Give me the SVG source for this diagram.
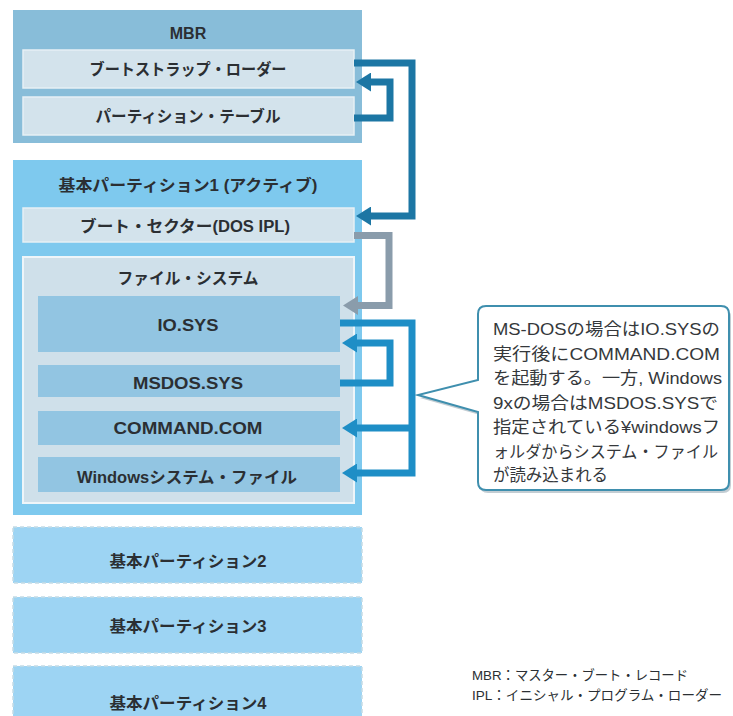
<svg xmlns="http://www.w3.org/2000/svg" width="733" height="716" viewBox="0 0 733 716">
<defs>
<style>
.t{font-family:"Liberation Sans","Noto Sans CJK JP",sans-serif;fill:#2b2f33;text-anchor:middle;dominant-baseline:central;font-weight:bold;font-size:16px}
.c{font-family:"Liberation Sans","Noto Sans CJK JP",sans-serif;fill:#35383b;font-size:16.5px;dominant-baseline:central}
.n{font-family:"Liberation Sans","Noto Sans CJK JP",sans-serif;fill:#2b2f33;font-size:13.5px;dominant-baseline:central}
.mbr{fill:#88bdd9}
.inner{fill:#d3e3ec;stroke:#e6f0f5;stroke-width:1.5}
.p1{fill:#7ec9ee}
.fs{fill:#cfe0ea;stroke:#eef5f9;stroke-width:2}
.item{fill:#92c5e2}
.pn{fill:#9dd4f3;stroke:#c5dbe6;stroke-width:1.5;stroke-dasharray:4 3}
.ad{fill:none;stroke:#1c76a4;stroke-width:7;marker-end:url(#hd)}
.ab{fill:none;stroke:#1e8ec6;stroke-width:7}
.ag{fill:none;stroke:#8a9cab;stroke-width:7;marker-end:url(#hg)}
</style>
<marker id="hd" markerUnits="userSpaceOnUse" viewBox="0 0 15 19" markerWidth="15" markerHeight="19" refX="0" refY="9.5" orient="auto"><path d="M0,0 L15,9.5 L0,19 z" fill="#1c76a4"/></marker>
<marker id="hb" markerUnits="userSpaceOnUse" viewBox="0 0 15 19" markerWidth="15" markerHeight="19" refX="0" refY="9.5" orient="auto"><path d="M0,0 L15,9.5 L0,19 z" fill="#1e8ec6"/></marker>
<marker id="hg" markerUnits="userSpaceOnUse" viewBox="0 0 15 19" markerWidth="15" markerHeight="19" refX="0" refY="9.5" orient="auto"><path d="M0,0 L15,9.5 L0,19 z" fill="#8a9cab"/></marker>
</defs>
<rect width="733" height="716" fill="#ffffff"/>

<g id="mbr">
<rect class="mbr" x="13" y="10" width="349" height="133"/>
<text class="t" x="188" y="33" font-size="15">MBR</text>
</g>
<g id="bootstrap">
<rect class="inner" x="23" y="50" width="331" height="38"/>
<text class="t" x="188" y="69" textLength="197" lengthAdjust="spacingAndGlyphs">ブートストラップ・ローダー</text>
</g>
<g id="ptable">
<rect class="inner" x="23" y="97" width="331" height="38"/>
<text class="t" x="188" y="116" textLength="185" lengthAdjust="spacingAndGlyphs">パーティション・テーブル</text>
</g>

<g id="part1">
<rect class="p1" x="13" y="160" width="349" height="355"/>
<text class="t" x="188" y="185" textLength="259" lengthAdjust="spacingAndGlyphs">基本パーティション1 (アクティブ)</text>
</g>
<g id="bootsector">
<rect class="inner" x="23" y="208" width="331" height="34"/>
<text class="t" x="185" y="226" textLength="210" lengthAdjust="spacingAndGlyphs">ブート・セクター(DOS IPL)</text>
</g>
<g id="filesystem">
<rect class="fs" x="23" y="257" width="331" height="246"/>
<text class="t" x="188" y="278" textLength="141" lengthAdjust="spacingAndGlyphs">ファイル・システム</text>
</g>
<g id="iosys">
<rect class="item" x="38" y="296" width="302" height="56"/>
<text class="t" x="188" y="325" textLength="61" lengthAdjust="spacingAndGlyphs">IO.SYS</text>
</g>
<g id="msdossys">
<rect class="item" x="38" y="365" width="302" height="32"/>
<text class="t" x="188" y="383" textLength="110" lengthAdjust="spacingAndGlyphs">MSDOS.SYS</text>
</g>
<g id="commandcom">
<rect class="item" x="38" y="411" width="302" height="34"/>
<text class="t" x="188" y="428" textLength="149" lengthAdjust="spacingAndGlyphs">COMMAND.COM</text>
</g>
<g id="winsys">
<rect class="item" x="38" y="457" width="302" height="35"/>
<text class="t" x="187" y="477" textLength="220" lengthAdjust="spacingAndGlyphs">Windowsシステム・ファイル</text>
</g>

<g id="part2">
<rect class="pn" x="13" y="527" width="349" height="56"/>
<text class="t" x="188" y="561" textLength="157" lengthAdjust="spacingAndGlyphs">基本パーティション2</text>
</g>
<g id="part3">
<rect class="pn" x="13" y="597" width="349" height="56"/>
<text class="t" x="188" y="626" textLength="157" lengthAdjust="spacingAndGlyphs">基本パーティション3</text>
</g>
<g id="part4">
<rect class="pn" x="13" y="666" width="349" height="60"/>
<text class="t" x="188" y="703" textLength="157" lengthAdjust="spacingAndGlyphs">基本パーティション4</text>
</g>

<g id="connectors">
<path class="ad" d="M354 63 H412 V216 H371"/>
<path class="ad" d="M354 118 H390 V82 H371"/>
<path class="ag" d="M354 235.5 H389 V305.5 H358"/>
<path class="ab" d="M340 323 H412 V473 H357" marker-end="url(#hb)"/>
<path class="ab" d="M412 428 H357" marker-end="url(#hb)"/>
<path class="ab" d="M340 383 H390 V343 H357" marker-end="url(#hb)"/>
</g>

<g id="callout">
<path d="M488 309 H723 Q731 309 731 317 V485 Q731 493 723 493 H488 Q480 493 480 485 V415 L420 398 L480 383 V317 Q480 309 488 309 Z" fill="#a9b8c1" opacity="0.7"/>
<path d="M486 306 H721 Q729 306 729 314 V482 Q729 490 721 490 H486 Q478 490 478 482 V412 L418 395 L478 380 V314 Q478 306 486 306 Z" fill="#ffffff" stroke="#3f8fae" stroke-width="2"/>
<text class="c" x="493" y="329" textLength="227" lengthAdjust="spacingAndGlyphs">MS-DOSの場合はIO.SYSの</text>
<text class="c" x="493" y="354" textLength="227" lengthAdjust="spacingAndGlyphs">実行後にCOMMAND.COM</text>
<text class="c" x="493" y="378" textLength="229" lengthAdjust="spacingAndGlyphs">を起動する。一方, Windows</text>
<text class="c" x="493" y="403" textLength="225" lengthAdjust="spacingAndGlyphs">9xの場合はMSDOS.SYSで</text>
<text class="c" x="493" y="427" textLength="227" lengthAdjust="spacingAndGlyphs">指定されている¥windowsフ</text>
<text class="c" x="493" y="452" textLength="225" lengthAdjust="spacingAndGlyphs">ォルダからシステム・ファイル</text>
<text class="c" x="493" y="475" textLength="115" lengthAdjust="spacingAndGlyphs">が読み込まれる</text>
</g>

<g id="notes">
<text class="n" x="472" y="675" textLength="216" lengthAdjust="spacingAndGlyphs">MBR：マスター・ブート・レコード</text>
<text class="n" x="472" y="695" textLength="250" lengthAdjust="spacingAndGlyphs">IPL：イニシャル・プログラム・ローダー</text>
</g>
</svg>
